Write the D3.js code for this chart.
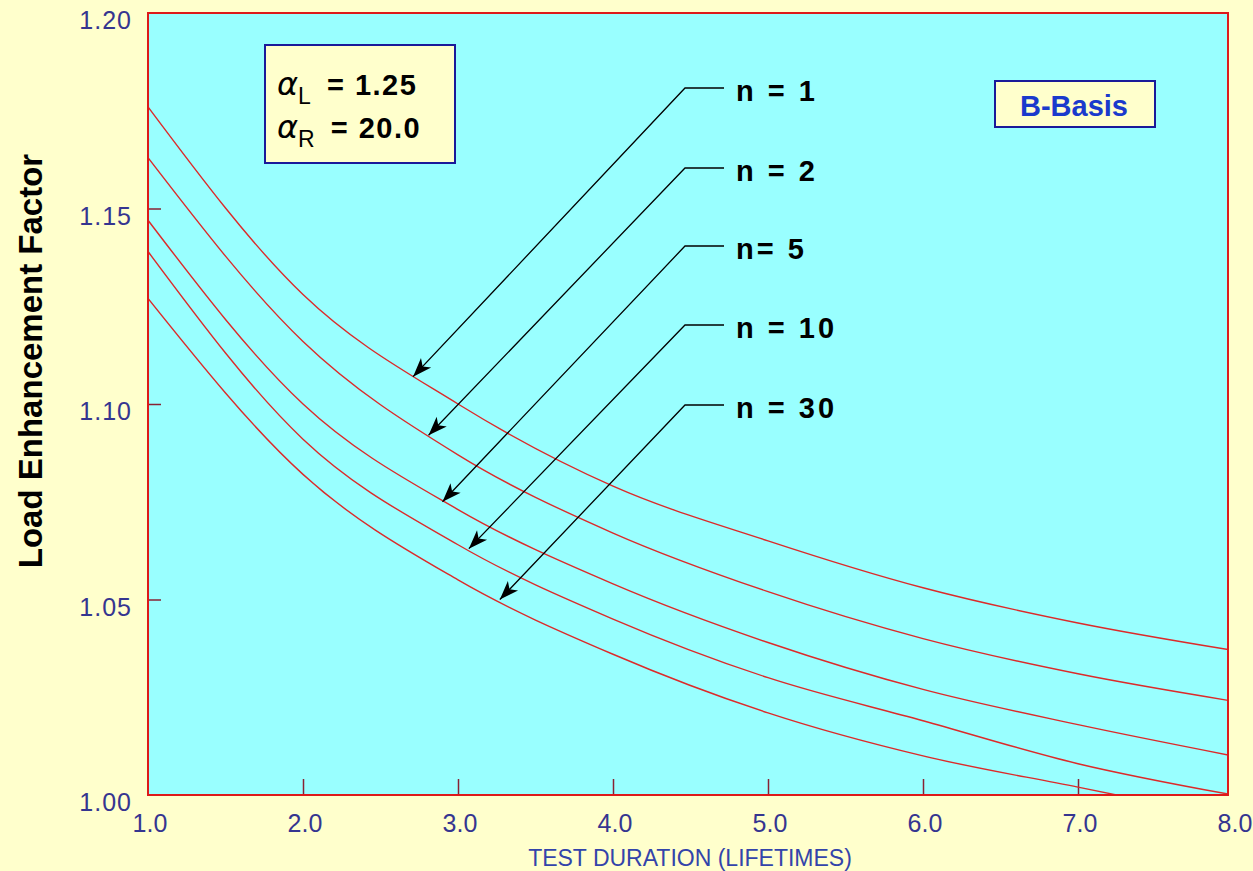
<!DOCTYPE html>
<html lang="en">
<head>
<meta charset="utf-8">
<title>Load Enhancement Factor</title>
<script src="https://cdn.jsdelivr.net/npm/d3@7"></script>
<style>
  html, body { margin: 0; padding: 0; background: #ffffcc; }
  svg { display: block; font-family: "Liberation Sans", Arial, sans-serif; }
</style>
</head>
<body>
<script>
// test duration (lifetimes)
var durations = [1, 2, 3, 4, 5, 6, 7, 8];
// sample size labels
var seriesNames = ["n = 1", "n = 2", "n= 5", "n = 10", "n = 30"];
// load enhancement factor, one row per n
var lefValues = [
  [1.176, 1.128, 1.100, 1.079, 1.065, 1.053, 1.044, 1.037],
  [1.163, 1.116, 1.087, 1.067, 1.052, 1.040, 1.031, 1.024],
  [1.147, 1.100, 1.073, 1.054, 1.039, 1.027, 1.018, 1.010],
  [1.139, 1.091, 1.064, 1.045, 1.030, 1.019, 1.008, 1.000],
  [1.127, 1.082, 1.055, 1.036, 1.021, 1.010, 1.002, 0.994]
];
// where each arrow points (duration, factor)
var arrowTips = [[2.71, 1.107], [2.81, 1.092], [2.90, 1.075], [3.07, 1.063], [3.27, 1.050]];
var xTicks = [1, 2, 3, 4, 5, 6, 7, 8];
var yTicks = [1.00, 1.05, 1.10, 1.15, 1.20];

(function() {
  var w = 1253, h = 871;
  var pL = 148, pT = 13, pR = 1228, pB = 795;

  var x = d3.scaleLinear().domain([1, 8]).range([pL, 1233]);
  var y = d3.scaleLinear().domain([1.0, 1.2]).range([pB, pT]);

  var svg = d3.select("body").append("svg")
    .attr("width", w).attr("height", h);

  svg.append("rect").attr("width", w).attr("height", h).attr("fill", "#ffffcc");

  var defs = svg.append("defs");
  defs.append("clipPath").attr("id", "plotclip")
    .append("rect").attr("x", pL).attr("y", pT)
    .attr("width", pR - pL).attr("height", pB - pT);

  // plot background
  svg.append("rect").attr("x", pL).attr("y", pT)
    .attr("width", pR - pL).attr("height", pB - pT)
    .attr("fill", "#99ffff");

  // ticks (inside the frame)
  var xAxis = d3.axisBottom(x).tickValues(xTicks.slice(1, -1)).tickSize(-16).tickFormat("");
  svg.append("g").attr("transform", "translate(0," + pB + ")").call(xAxis)
    .call(function(g) {
      g.select(".domain").remove();
      g.selectAll("line").attr("stroke", "#882233").attr("stroke-width", 1.5);
    });
  var yAxis = d3.axisLeft(y).tickValues(yTicks.slice(1, -1)).tickSize(-13).tickFormat("");
  svg.append("g").attr("transform", "translate(" + pL + ",0)").call(yAxis)
    .call(function(g) {
      g.select(".domain").remove();
      g.selectAll("line").attr("stroke", "#882233").attr("stroke-width", 1.5);
    });

  // tick labels
  svg.append("g").selectAll("text").data(xTicks).enter().append("text")
    .attr("x", function(d) { return x(d) + 2; })
    .attr("y", 832)
    .attr("text-anchor", "middle")
    .attr("font-size", 25)
    .attr("fill", "#353590")
    .text(function(d) { return d.toFixed(1); });
  svg.append("g").selectAll("text").data(yTicks).enter().append("text")
    .attr("x", 132)
    .attr("y", function(d) { return y(d) + 16; })
    .attr("text-anchor", "end")
    .attr("font-size", 25).attr("letter-spacing", 1)
    .attr("fill", "#353590")
    .text(function(d) { return d.toFixed(2); });

  // axis titles
  svg.append("text")
    .attr("x", 690).attr("y", 866)
    .attr("text-anchor", "middle")
    .attr("font-size", 23).attr("fill", "#3344aa")
    .text("TEST DURATION (LIFETIMES)");
  svg.append("text")
    .attr("transform", "translate(42,361) rotate(-90)")
    .attr("text-anchor", "middle")
    .attr("font-size", 33).attr("font-weight", "bold").attr("fill", "#000")
    .text("Load Enhancement Factor");

  // curves
  var line = d3.line()
    .x(function(d, i) { return x(durations[i]); })
    .y(function(d) { return y(d); })
    .curve(d3.curveMonotoneX);
  svg.append("g").attr("clip-path", "url(#plotclip)")
    .selectAll("path").data(lefValues).enter().append("path")
    .attr("d", line)
    .attr("fill", "none")
    .attr("stroke", "#dd2a2a")
    .attr("stroke-width", 1.4);

  // leader lines with arrows and labels
  var labelY = [88, 168, 246, 325, 405];
  var lead = svg.append("g");
  seriesNames.forEach(function(name, i) {
    var tx = x(arrowTips[i][0]), ty = y(arrowTips[i][1]);
    lead.append("path")
      .attr("d", "M724," + labelY[i] + " L685," + labelY[i] + " L" + tx + "," + ty)
      .attr("fill", "none").attr("stroke", "#000").attr("stroke-width", 1.3);
    // arrowhead drawn as a notched triangle pointing along the leader
    var ang = Math.atan2(ty - labelY[i], tx - 685) * 180 / Math.PI;
    lead.append("path")
      .attr("transform", "translate(" + tx + "," + ty + ") rotate(" + ang + ")")
      .attr("d", "M0,0 L-19,-7 L-14,0 L-19,7 Z")
      .attr("fill", "#000");
    lead.append("text")
      .attr("x", 736).attr("y", labelY[i] + 13)
      .attr("font-size", 29).attr("font-weight", "bold").attr("letter-spacing", 3)
      .attr("fill", "#000")
      .text(name);
  });

  // alpha box
  var ab = svg.append("g");
  ab.append("rect").attr("x", 265).attr("y", 45).attr("width", 190).attr("height", 118)
    .attr("fill", "#ffffcc").attr("stroke", "#1a1a99").attr("stroke-width", 2);
  var alphaLines = [["L", "= 1.25"], ["R", "= 20.0"]];
  alphaLines.forEach(function(a, i) {
    var t = ab.append("text").attr("x", 277).attr("y", 95 + i * 43).attr("fill", "#000");
    t.append("tspan").attr("font-size", 32).attr("font-style", "italic")
      .attr("font-family", "'DejaVu Sans', sans-serif").text("\u03B1");
    t.append("tspan").attr("font-size", 23).attr("dy", 9).text(a[0]);
    t.append("tspan").attr("font-size", 29).attr("font-weight", "bold").attr("dy", -9)
      .attr("dx", 16).attr("letter-spacing", 1.5).text(a[1]);
  });

  // B-Basis box
  svg.append("rect").attr("x", 995).attr("y", 81).attr("width", 160).attr("height", 46)
    .attr("fill", "#ffffcc").attr("stroke", "#1a1a99").attr("stroke-width", 2);
  svg.append("text").attr("x", 1074).attr("y", 116)
    .attr("text-anchor", "middle")
    .attr("font-size", 29).attr("font-weight", "bold").attr("fill", "#1a3acc")
    .text("B-Basis");

  // frame
  svg.append("rect").attr("x", pL).attr("y", pT)
    .attr("width", pR - pL).attr("height", pB - pT)
    .attr("fill", "none").attr("stroke", "#dd1a1a").attr("stroke-width", 2);
})();
</script>
</body>
</html>
